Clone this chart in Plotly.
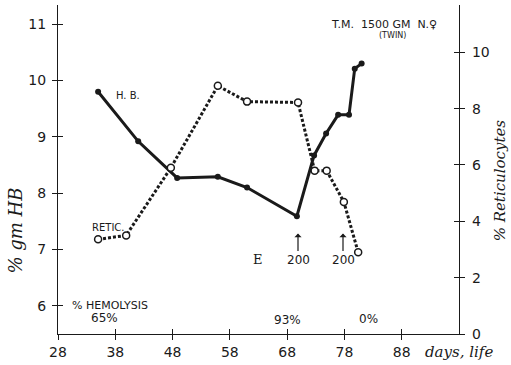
import plotly.graph_objects as go

# ---- data ----
hb_days = [35, 42, 48.8, 55.9, 61, 69.7, 72.7, 74.8, 76.9, 78.8, 79.8, 81]
hb_vals = [9.8, 8.92, 8.27, 8.29, 8.1, 7.59, 8.67, 9.06, 9.39, 9.39, 10.21, 10.3]
retic_days = [35, 39.9, 47.7, 55.9, 61, 69.9, 72.8, 74.9, 77.9, 80.4]
retic_vals = [3.36, 3.5, 5.9, 8.81, 8.25, 8.22, 5.8, 5.8, 4.69, 2.9]
x_ticks = [28, 38, 48, 58, 68, 78, 88]
hb_ticks = [6, 7, 8, 9, 10, 11]
retic_ticks = [0, 2, 4, 6, 8, 10]

X_RANGE = [28, 98]
Y1_RANGE = [5.5, 11.34]
Y2_RANGE = [0, 11.68]

INK = "#1a1a1a"
TICKFONT = dict(family="DejaVu Sans", size=14, color=INK)

fig = go.Figure()
fig.add_trace(go.Scatter(
    x=hb_days, y=hb_vals, mode="lines+markers",
    line=dict(color=INK, width=3),
    marker=dict(size=6, color=INK), showlegend=False))
fig.add_trace(go.Scatter(
    x=retic_days, y=retic_vals, mode="lines+markers", yaxis="y2",
    line=dict(color=INK, width=3, dash="3px,2px"),
    marker=dict(size=7, color="white", line=dict(color=INK, width=1.5)),
    showlegend=False))
# empty traces to activate the overlay axes used for crossing ticks
fig.add_trace(go.Scatter(x=[], y=[], xaxis="x2", yaxis="y3", showlegend=False))
fig.add_trace(go.Scatter(x=[], y=[], xaxis="x2", yaxis="y4", showlegend=False))

common = dict(showgrid=False, zeroline=False, ticklen=5, tickwidth=1, tickcolor=INK)

fig.update_layout(
    width=511, height=365,
    margin=dict(l=58, r=52, t=5, b=26),
    paper_bgcolor="white", plot_bgcolor="white",
    xaxis=dict(range=X_RANGE, tickvals=x_ticks, ticks="outside", showline=True,
               linecolor=INK, linewidth=1.2, tickfont=TICKFONT, **common),
    yaxis=dict(range=Y1_RANGE, tickvals=hb_ticks, ticks="outside", showline=True,
               linecolor=INK, linewidth=1.2, tickfont=TICKFONT, ticklabelstandoff=3, **common),
    yaxis2=dict(range=Y2_RANGE, tickvals=retic_ticks, ticks="outside", showline=True,
                overlaying="y", side="right", linecolor=INK, linewidth=1.2,
                tickfont=TICKFONT, ticklabelstandoff=4, **common),
    xaxis2=dict(range=X_RANGE, tickvals=x_ticks, ticks="inside", overlaying="x",
                anchor="y3", showticklabels=False, showline=False, **common),
    yaxis3=dict(range=Y1_RANGE, tickvals=hb_ticks, ticks="inside", overlaying="y",
                side="left", anchor="x2", showticklabels=False, showline=False, **common),
    yaxis4=dict(range=Y2_RANGE, tickvals=retic_ticks, ticks="inside", overlaying="y",
                side="right", anchor="x2", showticklabels=False, showline=False, **common),
)

def px_to_paper_x(px):
    return (px - 58) / 401

def py_to_paper_y(py):
    return (339 - py) / 334

def ann(text, px, py, size, family="DejaVu Sans", angle=0, xanchor="center"):
    fig.add_annotation(text=text, xref="paper", yref="paper",
                       x=px_to_paper_x(px), y=py_to_paper_y(py),
                       showarrow=False, textangle=angle, xanchor=xanchor, yanchor="middle",
                       borderpad=0,
                       font=dict(family=family, size=size, color=INK))

# axis titles
ann("<i>% gm HB</i>", 16, 234, 18, family="DejaVu Serif", angle=-90)
ann("<i>% Reticulocytes</i>", 500, 183, 15, family="DejaVu Serif", angle=-90)
ann("<i>days, life</i>", 424, 357, 15, family="DejaVu Serif", xanchor="left")

# labels
ann("H. B.", 128, 97, 10)
ann("RETIC.", 108, 231, 10)
ann("T.M.  1500 GM  N.♀", 384, 25, 11)
ann("(TWIN)", 392, 36, 8)
ann("% HEMOLYSIS", 110, 310, 11)
ann("65%", 104, 323, 12)
ann("93%", 287, 325, 12)
ann("0%", 368, 324, 12)
ann("E", 258, 263, 13, family="DejaVu Serif")

# arrows with "200"
for px in (298, 343):
    fig.add_annotation(text="200", xref="paper", yref="paper",
                       x=px_to_paper_x(px), y=py_to_paper_y(237),
                       showarrow=True, ax=0, ay=26, arrowhead=1, arrowsize=1,
                       arrowwidth=1.2, arrowcolor=INK,
                       font=dict(family="DejaVu Sans", size=12, color=INK))

fig.write_html("out.html")
